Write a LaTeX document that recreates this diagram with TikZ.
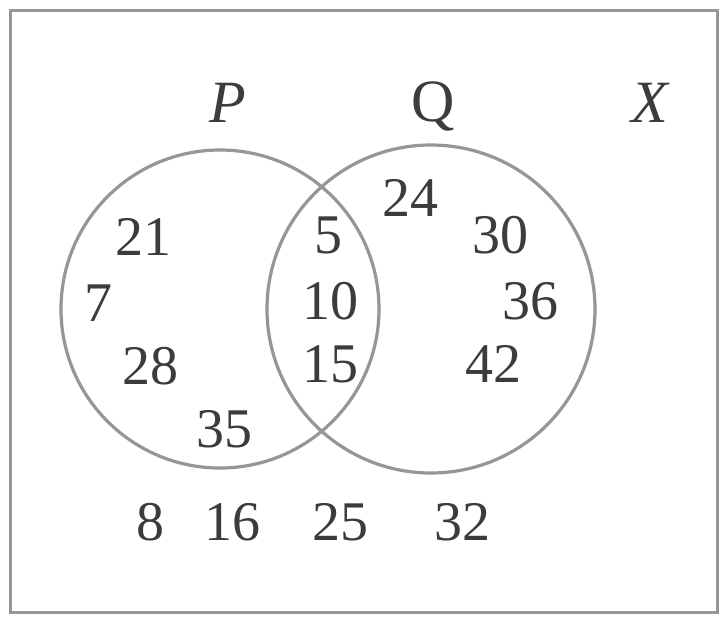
\documentclass[tikz,border=0pt]{standalone}
\usepackage{fontspec}
\setmainfont{Liberation Serif}
\begin{document}
\begin{tikzpicture}[x=1pt,y=-1pt]
\definecolor{linegray}{RGB}{150,150,150}
\definecolor{textgray}{RGB}{60,60,60}
\tikzset{
  setline/.style={draw=linegray, line width=3.2pt},
  num/.style={text=textgray, font=\fontsize{56}{58}\selectfont, inner sep=0pt},
  setname/.style={text=textgray, font=\fontsize{60}{62}\selectfont, inner sep=0pt}
}
\useasboundingbox (0,0) rectangle (724,622);
\fill[white] (0,0) rectangle (724,622);
\draw[linegray, line width=3pt] (10,10) rectangle (717,612);
% circles
\node[setline, circle, minimum size=318pt, inner sep=0pt] (P) at (220,309) {};
\node[setline, circle, minimum size=328pt, inner sep=0pt] (Q) at (431,309) {};
% set names
\node[setname] (lP) at (228,103) {\itshape P};
\node[setname] (lQ) at (433,106) {Q};
\node[setname] (lX) at (650,103) {\itshape X};
% P only
\node[num] (n21) at (143,237) {21};
\node[num] (n7) at (98,303) {7};
\node[num] (n28) at (150,366) {28};
\node[num] (n35) at (224,429) {35};
% intersection
\node[num] (n5) at (328,235) {5};
\node[num] (n10) at (330,301) {10};
\node[num] (n15) at (330,364) {15};
% Q only
\node[num] (n24) at (410,198) {24};
\node[num] (n30) at (500,235) {30};
\node[num] (n36) at (530,301) {36};
\node[num] (n42) at (493,364) {42};
% outside
\node[num] (n8) at (150,522) {8};
\node[num] (n16) at (232,522) {16};
\node[num] (n25) at (340,522) {25};
\node[num] (n32) at (462,522) {32};
\end{tikzpicture}
\end{document}
